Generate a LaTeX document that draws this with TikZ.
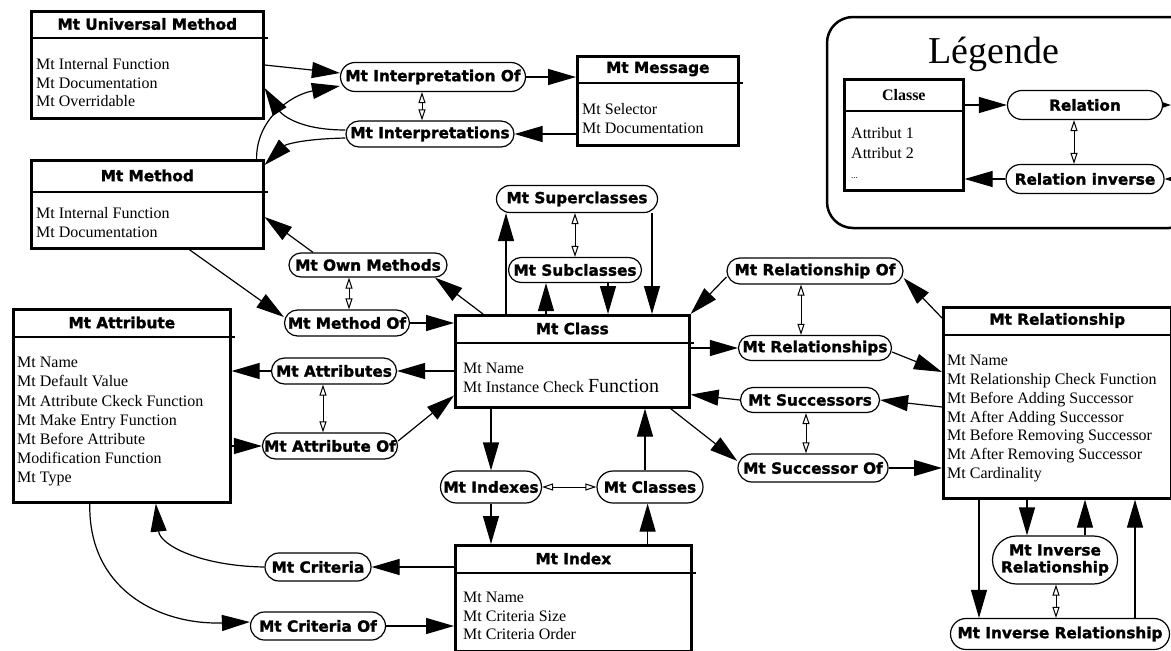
\documentclass[tikz,border=0pt]{standalone}
\usepackage{fontspec}
\setmainfont{Liberation Serif}
\newfontfamily\hdfont{DejaVu Sans}[BoldFeatures={FakeBold=1.6}]
\usetikzlibrary{arrows.meta,shapes.misc,calc}
\begin{document}
\begin{tikzpicture}[x=1pt,y=-1pt,
  cbox/.style={draw, line width=2.6pt, anchor=north west, inner sep=0pt},
  sepline/.style={line width=2.6pt},
  ttl/.style={font=\hdfont\bfseries\fontsize{15.3}{18}\selectfont, inner sep=0pt},
  body/.style={font=\fontsize{16}{18.8}\selectfont, align=left, anchor=north west, inner sep=0pt},
  pill/.style={draw, line width=1.2pt, rounded rectangle, inner sep=0pt, font=\hdfont\bfseries\fontsize{15.3}{18}\selectfont},
  arr/.style={line width=1.2pt, -{Triangle[length=28pt,width=16pt]}},
  dbl/.style={line width=1pt, {Triangle[open,length=11pt,width=7pt]}-{Triangle[open,length=11pt,width=7pt]}},
  sarr/.style={line width=1.2pt, -{Triangle[length=8pt,width=5pt]}},
]
\useasboundingbox (0,0) rectangle (1171,651);

% ---------- Legend ----------
\draw[line width=2.5pt, rounded corners=26pt] (827,17) rectangle (1195,228);
\node[anchor=base, font=\fontsize{38}{40}\selectfont, inner sep=0pt] (legtitle) at (994,63) {Légende};
\node[cbox, minimum width=119pt, minimum height=111pt] (classe) at (843,78) {};
\draw[sepline] ([yshift=-33pt]classe.north west) -- ([yshift=-33pt]classe.north east);
\node[inner sep=0pt, font=\bfseries\fontsize{16}{18}\selectfont] (classettl) at ([yshift=-17pt]classe.north) {Classe};
\node[body, font=\fontsize{16}{20}\selectfont] (classebody) at (851,127) {Attribut 1\\Attribut 2\\{\fontsize{9}{9}\selectfont...}};
\node[pill, minimum width=155pt, minimum height=29pt] (relation) at (1085,105) {Relation};
\node[pill, minimum width=158pt, minimum height=29pt] (relinv) at (1085,179) {Relation inverse};
\coordinate (lr1) at (1171,105);
\coordinate (lr2) at (1171,179);
\draw[arr] (relation.west -| classe.east) -- (relation.west);
\draw[arr] (relinv.west) -- (relinv.west -| classe.east);
\draw[dbl] ([xshift=-11pt]relation.south) -- ([xshift=-11pt]relation.south |- relinv.north);
\draw[sarr] (relation.east) -- (lr1);
\draw[sarr] (lr2) -- (relinv.east);

% ---------- Class boxes ----------
\node[cbox, minimum width=232pt, minimum height=107pt] (umeth) at (30,10) {};
\draw[sepline] ([yshift=-28pt]umeth.north west) -- ([yshift=-28pt,xshift=3pt]umeth.north east);
\node[ttl] (umethttl) at ([yshift=-14pt]umeth.north) {Mt Universal Method};
\node[body] (umethbody) at (36,58) {Mt Internal Function\\Mt Documentation\\Mt Overridable};

\node[cbox, minimum width=232pt, minimum height=88pt] (method) at (30,159) {};
\draw[sepline] ([yshift=-33pt]method.north west) -- ([yshift=-33pt,xshift=3pt]method.north east);
\node[ttl] (methodttl) at ([yshift=-16.5pt]method.north) {Mt Method};
\node[body] (methodbody) at (36,207) {Mt Internal Function\\Mt Documentation};

\node[cbox, minimum width=161pt, minimum height=89pt] (message) at (576,55) {};
\draw[sepline] ([yshift=-28pt]message.north west) -- ([yshift=-28pt,xshift=3pt]message.north east);
\node[ttl] (messagettl) at ([yshift=-14pt]message.north) {Mt Message};
\node[body] (messagebody) at (582,103) {Mt Selector\\Mt Documentation};

\node[cbox, minimum width=217pt, minimum height=193pt] (attribute) at (12,308) {};
\draw[sepline] ([yshift=-29pt]attribute.north west) -- ([yshift=-29pt,xshift=3pt]attribute.north east);
\node[ttl] (attributettl) at ([yshift=-14.5pt]attribute.north) {Mt Attribute};
\node[body, font=\fontsize{16}{19.2}\selectfont] (attributebody) at (17,357) {Mt Name\\Mt Default Value\\Mt Attribute Ckeck Function\\Mt Make Entry Function\\Mt Before Attribute\\Modification Function\\Mt Type};

\node[cbox, minimum width=234pt, minimum height=92pt] (class) at (454,314) {};
\draw[sepline] ([yshift=-29pt]class.north west) -- ([yshift=-29pt,xshift=3pt]class.north east);
\node[ttl] (classttl) at ([yshift=-14.5pt]class.north) {Mt Class};
\node[body] (classbody) at (463,363) {Mt Name\\Mt Instance Check {\fontsize{20}{18.8}\selectfont Function}};

\node[cbox, minimum width=228pt, minimum height=191pt] (relationship) at (942,306) {};
\draw[sepline] ([yshift=-29pt]relationship.north west) -- ([yshift=-29pt]relationship.north east);
\node[ttl] (relationshipttl) at ([yshift=-14.5pt]relationship.north) {Mt Relationship};
\node[body] (relationshipbody) at (947,355) {Mt Name\\Mt Relationship Check Function\\Mt Before Adding Successor\\Mt After Adding Successor\\Mt Before Removing Successor\\Mt After Removing Successor\\Mt Cardinality};

\node[cbox, minimum width=236pt, minimum height=106pt] (index) at (454,544) {};
\draw[sepline] ([yshift=-29pt]index.north west) -- ([yshift=-29pt,xshift=3pt]index.north east);
\node[ttl] (indexttl) at ([yshift=-14.5pt]index.north) {Mt Index};
\node[body, font=\fontsize{16}{18.5}\selectfont] (indexbody) at (463,592) {Mt Name\\Mt Criteria Size\\Mt Criteria Order};

% ---------- Relation pills ----------
\node[pill, minimum width=185pt, minimum height=29pt] (interpOf) at (433,77) {Mt Interpretation Of};
\node[pill, minimum width=168pt, minimum height=26pt] (interps) at (430,134) {Mt Interpretations};
\node[pill, minimum width=161pt, minimum height=27pt] (supers) at (577,199) {Mt Superclasses};
\node[pill, minimum width=133pt, minimum height=25pt] (subs) at (575,270) {Mt Subclasses};
\node[pill, minimum width=158pt, minimum height=24pt] (ownmeth) at (368,265) {Mt Own Methods};
\node[pill, minimum width=125pt, minimum height=26pt] (methodOf) at (347,323) {Mt Method Of};
\node[pill, minimum width=125pt, minimum height=26pt] (attrs) at (334,371) {Mt Attributes};
\node[pill, minimum width=135pt, minimum height=26pt] (attrOf) at (330,446) {Mt Attribute Of};
\node[pill, minimum width=176pt, minimum height=26pt] (relOf) at (815,271) {Mt Relationship Of};
\node[pill, minimum width=153pt, minimum height=25pt] (rels) at (815,348) {Mt Relationships};
\node[pill, minimum width=139pt, minimum height=25pt] (succs) at (810,400) {Mt Successors};
\node[pill, minimum width=150pt, minimum height=28pt] (succOf) at (813,468) {Mt Successor Of};
\node[pill, minimum width=101pt, minimum height=32pt] (indexes) at (491,487) {Mt Indexes};
\node[pill, minimum width=106pt, minimum height=32pt] (classes) at (650,487) {Mt Classes};
\node[pill, minimum width=106pt, minimum height=28pt] (criteria) at (318,567) {Mt Criteria};
\node[pill, minimum width=135pt, minimum height=28pt] (criteriaOf) at (318,626) {Mt Criteria Of};
\node[pill, minimum width=125pt, minimum height=48pt, align=center, font=\hdfont\bfseries\fontsize{15.3}{17}\selectfont] (invRel2) at (1055,560) {Mt Inverse\\Relationship};
\node[pill, minimum width=219pt, minimum height=31pt] (invRel) at (1060,634) {Mt Inverse Relationship};

% ---------- Connectors: methods / messages ----------
\draw[arr] ([yshift=-55pt]umeth.north east) -- ([yshift=4pt]interpOf.west);
\draw[arr] ([xshift=-8pt]method.north east) .. controls (256,120) and (290,95) .. ([yshift=-9pt]interpOf.west);
\draw[arr] ([yshift=4pt]interps.west) .. controls (295,130) and (280,112) .. ([yshift=-78pt]umeth.north east);
\draw[arr] ([yshift=-4pt]interps.west) .. controls (300,139) and (285,145) .. ([yshift=-6pt]method.north east);
\draw[dbl] ([xshift=-11pt]interpOf.south) -- ([xshift=-11pt]interpOf.south |- interps.north);
\draw[arr] (interpOf.east) -- (interpOf.east -| message.west);
\draw[arr] (message.west |- interps.east) -- (interps.east);

\draw[arr] ([xshift=42pt]method.south) -- ([yshift=6pt]methodOf.west);
\draw[arr] ([xshift=-55pt]ownmeth.north) -- ([yshift=-58pt]method.north east);
\draw[arr] ([xshift=29pt]class.north west) -- ([xshift=67pt]ownmeth.south);
\draw[dbl] ([xshift=-19pt]ownmeth.south) -- ([xshift=-19pt]ownmeth.south |- methodOf.north);
\draw[arr] (methodOf.east) -- (methodOf.east -| class.west);

% ---------- attributes ----------
\draw[arr] (attrs.east -| class.west) -- (attrs.east);
\draw[arr] (attrs.west) -- (attrs.west -| attribute.east);
\draw[dbl] ([xshift=-11pt]attrs.south) -- ([xshift=-11pt]attrs.south |- attrOf.north);
\draw[arr] (attrOf.west -| attribute.east) -- (attrOf.west);
\draw[arr] ([yshift=5pt]attrOf.east) -- ([yshift=13pt]class.south west);

% ---------- super/subclasses ----------
\draw[arr] ([xshift=52pt]class.north west) -- ([xshift=52pt]class.north west |- supers.south);
\draw[arr] ([xshift=92pt]class.north west) -- ([xshift=92pt]class.north west |- subs.south);
\draw[arr] ([xshift=33pt]subs.south) -- ([xshift=33pt]subs.south |- class.north);
\draw[arr] ([xshift=75pt]supers.south) -- ([xshift=75pt]supers.south |- class.north);
\draw[dbl] ([xshift=-2pt]supers.south) -- ([xshift=-2pt]supers.south |- subs.north);

% ---------- relationships ----------
\draw[arr] ([yshift=-6pt]relOf.west) -- (class.north east);
\draw[arr] ([yshift=-12pt]relationship.north west) -- ([yshift=-7pt]relOf.east);
\draw[dbl] ([xshift=-14pt]relOf.south) -- ([xshift=-14pt]relOf.south |- rels.north);
\draw[arr] (rels.west -| class.east) -- (rels.west);
\draw[arr] ([yshift=-4pt]rels.east) -- ([yshift=-66pt]relationship.north west);
\draw[arr] ([yshift=-101pt]relationship.north west) -- (succs.east);
\draw[arr] (succs.west) -- ([yshift=14pt]class.south east);
\draw[dbl] ([xshift=-4pt]succs.south) -- ([xshift=-4pt]succs.south |- succOf.north);
\draw[arr] ([xshift=-20pt]class.south east) -- ([yshift=7pt]succOf.west);
\draw[arr] (succOf.east) -- (succOf.east -| relationship.west);

% ---------- inverse relationship ----------
\draw[arr] ([xshift=37pt]relationship.south west) -- ([xshift=37pt]relationship.south west |- invRel.north);
\draw[arr] ([xshift=85pt]relationship.south west) -- ([xshift=85pt]relationship.south west |- invRel2.north);
\draw[arr] ([xshift=30pt]invRel2.north) -- ([xshift=30pt]invRel2.north |- relationship.south);
\draw[arr] ([xshift=75pt]invRel.north) -- ([xshift=75pt]invRel.north |- relationship.south);
\draw[dbl] ([xshift=1pt]invRel2.south) -- ([xshift=1pt]invRel2.south |- invRel.north);

% ---------- indexes ----------
\draw[arr] ([xshift=37pt]class.south west) -- ([xshift=37pt]class.south west |- indexes.north);
\draw[arr] (indexes.south) -- (indexes.south |- index.north);
\draw[arr] ([xshift=-45pt]index.north east) -- ([xshift=-45pt]index.north east |- classes.south);
\draw[arr] ([xshift=-5pt]classes.north) -- ([xshift=-5pt]classes.north |- class.south);
\draw[dbl] (indexes.east) -- (classes.west);

% ---------- criteria ----------
\draw[arr] (criteria.east -| index.west) -- (criteria.east);
\draw[arr] (criteria.west) .. controls (200,566) and (160,545) .. ([xshift=34pt]attribute.south);
\draw[arr] ([xshift=-32pt]attribute.south) .. controls (88,590) and (160,625) .. ([yshift=4pt]criteriaOf.west);
\draw[arr] (criteriaOf.east) -- (criteriaOf.east -| index.west);
\end{tikzpicture}
\end{document}
